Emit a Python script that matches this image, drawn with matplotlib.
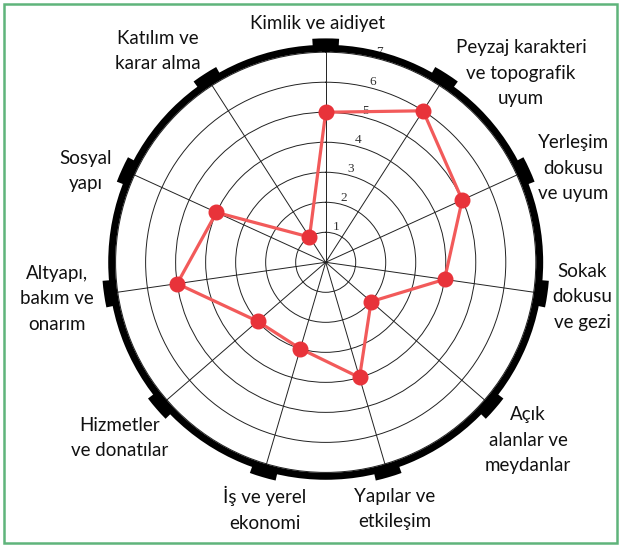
import numpy as np
import matplotlib.pyplot as plt
from matplotlib.patches import Rectangle

categories = [
    "Kimlik ve aidiyet",
    "Peyzaj karakteri\nve topografik\nuyum",
    "Yerleşim\ndokusu\nve uyum",
    "Sokak\ndokusu\nve gezi",
    "Açık\nalanlar ve\nmeydanlar",
    "Yapılar ve\netkileşim",
    "İş ve yerel\nekonomi",
    "Hizmetler\nve donatılar",
    "Altyapı,\nbakım ve\nonarım",
    "Sosyal\nyapı",
    "Katılım ve\nkarar alma",
]
scores = [5, 6, 5, 4, 2, 4, 3, 3, 5, 4, 1]
rings = [1, 2, 3, 4, 5, 6, 7]

# label anchor points (figure px, from top-left) - hand placed like the original
label_pos = [
    (317, 24), (521, 73), (573, 168), (582, 297), (528, 440),
    (395, 509), (265, 509), (120, 438), (57, 299), (86, 171), (158, 51),
]

W, H = 621, 546
fig = plt.figure(figsize=(W / 100, H / 100), dpi=100)

cx, cy, R = 325.7, 262.3, 214
ax = fig.add_axes([(cx - R) / W, (H - cy - R) / H, 2 * R / W, 2 * R / H], polar=True)

n = len(categories)
theta = np.linspace(0, 2 * np.pi, n, endpoint=False)

ax.set_theta_zero_location('N')
ax.set_theta_direction(-1)

rmax = 7.13
th = np.append(theta, theta[0])
vals = np.append(scores, scores[0])
ax.plot(th, vals, color='#f25a5a', lw=2.3, zorder=3)
ax.plot(theta, scores, 'o', color='#e8333a', ms=10.5, zorder=4)

# black blocks on the rim at every category
ax.bar(theta, 0.33, width=0.12, bottom=rmax, color='black', clip_on=False, zorder=5)

ax.set_ylim(0, rmax)
ax.set_yticks(rings)
ax.set_yticklabels([str(r) for r in rings], fontsize=9.5, family='Liberation Serif', color='#333333')
ax.set_rlabel_position(14)
ax.set_xticks(theta)
ax.set_xticklabels([])
ax.grid(True, color='#222222', lw=0.7)
ax.spines['polar'].set_linewidth(5)
ax.spines['polar'].set_color('black')
ax.tick_params(axis='y', pad=0)

for lab, (x, y) in zip(categories, label_pos):
    fig.text(x / W, 1 - y / H, lab, ha='center', va='center', multialignment='center',
             fontsize=13.5, family='Lato', linespacing=1.6, color='#111111')

fig.patches.append(Rectangle((4 / W, 3 / H), (W - 8) / W, (H - 7) / H, transform=fig.transFigure,
                             fill=False, edgecolor='#5fb47b', lw=1.8))

fig.savefig('out.png', dpi=100)
